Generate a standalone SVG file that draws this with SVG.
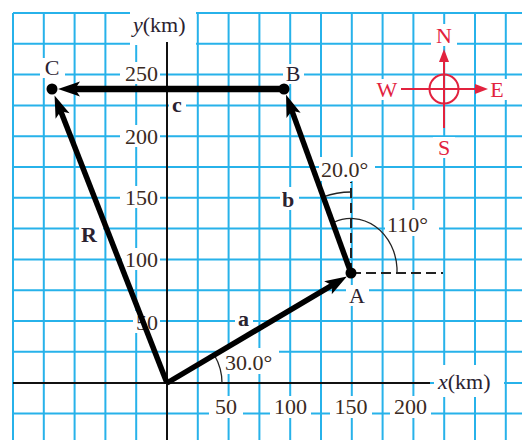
<svg xmlns="http://www.w3.org/2000/svg" width="522" height="440" viewBox="0 0 522 440">
<defs>
<style>
.grid{stroke:#27b2ea;stroke-width:2;fill:none}
.bg{fill:#ffffff}
.axis{stroke:#111;stroke-width:2;fill:none}
.vec{stroke:#000;stroke-width:5.5;fill:none;stroke-linecap:butt}
.thin{stroke:#222;stroke-width:1.3;fill:none}
.dash{stroke:#222;stroke-width:2;fill:none;stroke-dasharray:10 5}
.lbl{font-family:"Liberation Serif","Times New Roman",serif;font-size:22px;fill:#2a2230}
.num{font-family:"Liberation Serif","Times New Roman",serif;font-size:22px;fill:#3a2a22}
.bold{font-family:"Liberation Serif","Times New Roman",serif;font-size:22px;font-weight:bold;fill:#2a2230}
.cmp{font-family:"Liberation Serif","Times New Roman",serif;font-size:22px;fill:#e2223e}
.red{stroke:#e2223e;stroke-width:2;fill:none}
.mid{text-anchor:middle}
.end{text-anchor:end}
</style>
<marker id="ah" markerUnits="userSpaceOnUse" viewBox="-12 -9 28 18" refX="0" refY="0" markerWidth="28" markerHeight="18" orient="auto">
<path d="M13,0 L-9,-7.5 L-4,0 L-9,7.5 Z" fill="#000"/>
</marker>
<marker id="rh" markerUnits="userSpaceOnUse" viewBox="-2 -6 16 12" refX="0" refY="0" markerWidth="16" markerHeight="12" orient="auto">
<path d="M0,-5 L13,0 L0,5 Z" fill="#e2223e"/>
</marker>
</defs>
<rect x="0" y="0" width="522" height="440" fill="#fff"/>
<g id="grid">
<path class="grid" d="M13,13V440M43.8,13V440M74.6,13V440M105.4,13V440M136.2,13V440M167,13V440M197.8,13V440M228.6,13V440M259.4,13V440M290.2,13V440M321,13V440M351.8,13V440M382.6,13V440M413.4,13V440M444.2,13V440M475,13V440M505.8,13V440"/>
<path class="grid" d="M13,13H522M13,43.8H522M13,74.6H522M13,105.4H522M13,136.2H522M13,167H522M13,197.8H522M13,228.6H522M13,259.4H522M13,290.2H522M13,321H522M13,351.8H522M13,383H522M13,413.4H522"/>
</g>
<g id="label-backgrounds">
<rect class="bg" x="130" y="8" width="66" height="37"/>
<rect class="bg" x="120" y="62" width="40" height="22"/>
<rect class="bg" x="120" y="125" width="40" height="22"/>
<rect class="bg" x="120" y="186" width="40" height="22"/>
<rect class="bg" x="122" y="248" width="38" height="22"/>
<rect class="bg" x="133" y="311" width="27" height="22"/>
<rect class="bg" x="209" y="396" width="34" height="22"/>
<rect class="bg" x="270" y="396" width="41" height="22"/>
<rect class="bg" x="330" y="396" width="42" height="22"/>
<rect class="bg" x="390" y="396" width="41" height="22"/>
<rect class="bg" x="434" y="365" width="70" height="32"/>
<rect class="bg" x="40" y="58" width="25" height="20"/>
<rect class="bg" x="283" y="64" width="21" height="20"/>
<rect class="bg" x="346" y="285" width="23" height="21"/>
<rect class="bg" x="169" y="98" width="17" height="18"/>
<rect class="bg" x="280" y="187" width="19" height="23"/>
<rect class="bg" x="79" y="222" width="24" height="23"/>
<rect class="bg" x="235" y="311" width="18" height="18"/>
<rect class="bg" x="223" y="348" width="56" height="26"/>
<rect class="bg" x="319" y="157" width="56" height="24"/>
<rect class="bg" x="385" y="210" width="54" height="26"/>
<rect class="bg" x="431" y="24" width="26" height="22"/>
<rect class="bg" x="372" y="79" width="29" height="21"/>
<rect class="bg" x="487" y="79" width="20" height="21"/>
<rect class="bg" x="433" y="137" width="22" height="21"/>
</g>
<g id="axes">
<path class="axis" d="M13,383H430"/>
<path class="axis" d="M167,42V440"/>
<text class="lbl" x="133" y="32"><tspan font-style="italic">y</tspan>(km)</text>
<text class="lbl" x="438" y="389"><tspan font-style="italic">x</tspan>(km)</text>
<text class="num end" x="158" y="81">250</text>
<text class="num end" x="158" y="144">200</text>
<text class="num end" x="158" y="205">150</text>
<text class="num end" x="158" y="267">100</text>
<text class="num end" x="158" y="330">50</text>
<text class="num mid" x="226" y="414">50</text>
<text class="num mid" x="290.5" y="414">100</text>
<text class="num mid" x="351" y="414">150</text>
<text class="num mid" x="410.5" y="414">200</text>
</g>
<g id="angles">
<path class="dash" d="M351,273V182"/>
<path class="dash" d="M351,273H443"/>
<path class="thin" d="M222,383 A55,55 0 0 0 214.6,355.5"/>
<path class="thin" d="M351,192 A81,81 0 0 0 323.3,196.9"/>
<path class="thin" d="M397,273 V268 A46,53 0 0 0 333.5,222.5"/>
<text class="num" x="225" y="370">30.0°</text>
<text class="num" x="321" y="177">20.0°</text>
<text class="num" x="387" y="232">110°</text>
</g>
<g id="connectors">
<path class="vec" d="M167,383 L335.7,283.1" marker-end="url(#ah)"/>
<path class="vec" d="M351,273 L290.5,106.9" marker-end="url(#ah)"/>
<path class="vec" style="stroke-width:6.5" d="M284,89 L71,89" marker-end="url(#ah)"/>
<path class="vec" d="M167,383 L59.3,107.6" marker-end="url(#ah)"/>
<text class="bold" x="238" y="326">a</text>
<text class="bold" x="282" y="207">b</text>
<text class="bold" x="172" y="112">c</text>
<text class="bold" x="81" y="242">R</text>
</g>
<g id="node-A">
<circle cx="351" cy="273" r="5.5" fill="#000"/>
<text class="lbl mid" x="357" y="303">A</text>
</g>
<g id="node-B">
<circle cx="284" cy="89" r="5.5" fill="#000"/>
<text class="lbl mid" x="293" y="81">B</text>
</g>
<g id="node-C">
<circle cx="52" cy="89" r="5.5" fill="#000"/>
<text class="lbl mid" x="52" y="75">C</text>
</g>
<g id="compass">
<circle class="red" cx="444" cy="89" r="14.5"/>
<path class="red" d="M444,128 V62" marker-end="url(#rh)"/>
<path class="red" d="M401,89 H475" marker-end="url(#rh)"/>
<text class="cmp mid" x="444" y="43">N</text>
<text class="cmp mid" x="387" y="97">W</text>
<text class="cmp mid" x="497" y="97">E</text>
<text class="cmp mid" x="444" y="155">S</text>
</g>
</svg>
